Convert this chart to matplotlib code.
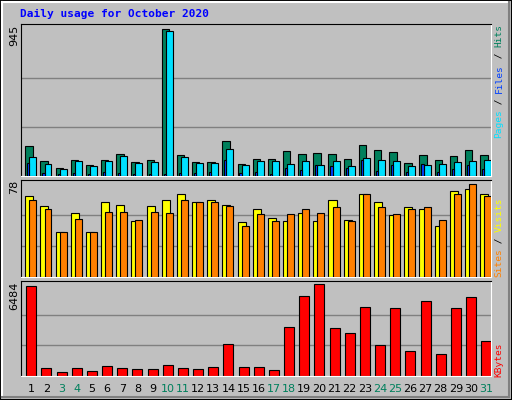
import matplotlib
matplotlib.use("Agg")
import matplotlib.pyplot as plt
from matplotlib.patches import Rectangle
from matplotlib.lines import Line2D

days = list(range(1, 32))
weekend = [3, 4, 10, 11, 17, 18, 24, 25, 31]
hits = [197,101,56,107,75,107,146,94,107,945,139,94,94,229,81,114,114,165,146,152,146,114,204,171,159,88,139,107,133,171,139]
files = [126,81,49,101,69,101,133,88,94,932,126,88,88,178,75,101,101,81,101,75,101,69,120,107,101,69,75,81,94,101,107]
pages = [88,24,13,24,17,30,24,17,17,17,24,24,30,107,24,30,17,56,43,75,69,56,107,36,75,30,81,30,49,75,49]
visits = [68,60,38,54,38,63,61,47,60,65,70,63,65,61,46,57,50,47,54,47,65,48,70,63,52,59,57,43,72,74,70]
sites = [65,57,38,49,38,55,55,48,55,54,65,63,63,60,43,53,47,53,57,54,59,47,70,59,53,57,59,48,70,78,68]
kbytes = [6341,548,262,548,334,691,548,477,477,763,548,477,620,2265,620,620,405,3481,5626,6484,3409,3052,4911,2193,4840,1764,5269,1550,4840,5555,2479]

C_HITS, C_FILES, C_PAGES = "#00805C", "#0040FF", "#00E0FF"
C_VIS, C_SITES, C_KB = "#FFFF00", "#FF8000", "#FF0000"
BG = "#C0C0C0"

W, H = 512, 400
fig = plt.figure(figsize=(W/100, H/100), dpi=100, facecolor=BG)

def fx(px): return px / W
def fy(py): return 1 - py / H

# outer bevel
fig.add_artist(Rectangle((0, 0), 1, 1, transform=fig.transFigure, fill=False, ec="black", lw=1.5))
fig.add_artist(Line2D([fx(2), fx(2)], [fy(2), fy(397)], transform=fig.transFigure, color="white", lw=1.5))
fig.add_artist(Line2D([fx(2), fx(509)], [fy(2), fy(2)], transform=fig.transFigure, color="white", lw=1.5))
fig.add_artist(Line2D([fx(509), fx(509)], [fy(2), fy(397)], transform=fig.transFigure, color="#808080", lw=1.5))
fig.add_artist(Line2D([fx(2), fx(509)], [fy(397), fy(397)], transform=fig.transFigure, color="#808080", lw=1.5))

x0, x1 = 20.7, 490.7

def make_ax(top, bottom, datatop_px, vmax):
    ax = fig.add_axes([fx(x0), fy(bottom), fx(x1 - x0), (bottom - top) / H])
    ax.set_facecolor(BG)
    ax.set_xlim(0, 31)
    ax.set_ylim(0, vmax * (bottom - top) / (bottom - datatop_px))
    ax.set_xticks([]); ax.set_yticks([])
    for s in ("top", "left"):
        ax.spines[s].set_color("black")
    for s in ("bottom", "right"):
        ax.spines[s].set_color("white")
    for k in (1, 2):
        ax.axhline(vmax * k / 3, color="#808080", lw=1, zorder=0)
    return ax

def bars(ax, vals, a, b, color, z):
    ax.bar([i + a for i in range(31)], vals, width=b - a, align="edge",
           color=color, edgecolor="black", linewidth=0.8, zorder=z)

ax1 = make_ax(24.5, 176.5, 29, 945)
bars(ax1, hits, 0.3, 0.79, C_HITS, 2)
bars(ax1, files, 0.57, 1.03, C_FILES if False else C_PAGES, 3)
bars(ax1, pages, 0.43, 0.57, C_FILES, 4)

ax2 = make_ax(180, 277, 184.3, 78)
bars(ax2, visits, 0.3, 0.83, C_VIS, 2)
bars(ax2, sites, 0.57, 1.03, C_SITES, 3)

ax3 = make_ax(280.5, 376, 284.3, 6484)
bars(ax3, kbytes, 0.37, 1.03, C_KB, 2)

for d in days:
    ax3.text(d - 1 + 0.7, -0.14, str(d), transform=ax3.get_xaxis_transform(),
             ha="center", va="center", fontsize=8,
             color=C_HITS if d in weekend else "black")

fig.text(fx(20), fy(14), "Daily usage for October 2020", ha="left", va="center",
         fontsize=8, fontweight="bold", family="DejaVu Sans Mono", color="#0000FF")

for lab, ytop in (("945", 25), ("78", 180), ("6484", 282)):
    fig.text(fx(14), fy(ytop), lab, rotation=90, ha="center", va="top", fontsize=8)

fs = 6.8
adv = 0.602 * fs * 100 / 72
def vlabel(parts, ybottom):
    y = ybottom
    for txt, col in parts:
        fig.text(fx(499), fy(y), txt, rotation=90, ha="center", va="bottom",
                 fontsize=fs, family="DejaVu Sans Mono", color=col)
        y -= adv * len(txt)

vlabel([("Pages", C_PAGES), (" / ", "black"), ("Files", C_FILES), (" / ", "black"), ("Hits", C_HITS)], 138)
vlabel([("Sites", C_SITES), (" / ", "black"), ("Visits", C_VIS)], 277)
vlabel([("KBytes", C_KB)], 377)

fig.savefig("out.png", dpi=100, facecolor=BG)
